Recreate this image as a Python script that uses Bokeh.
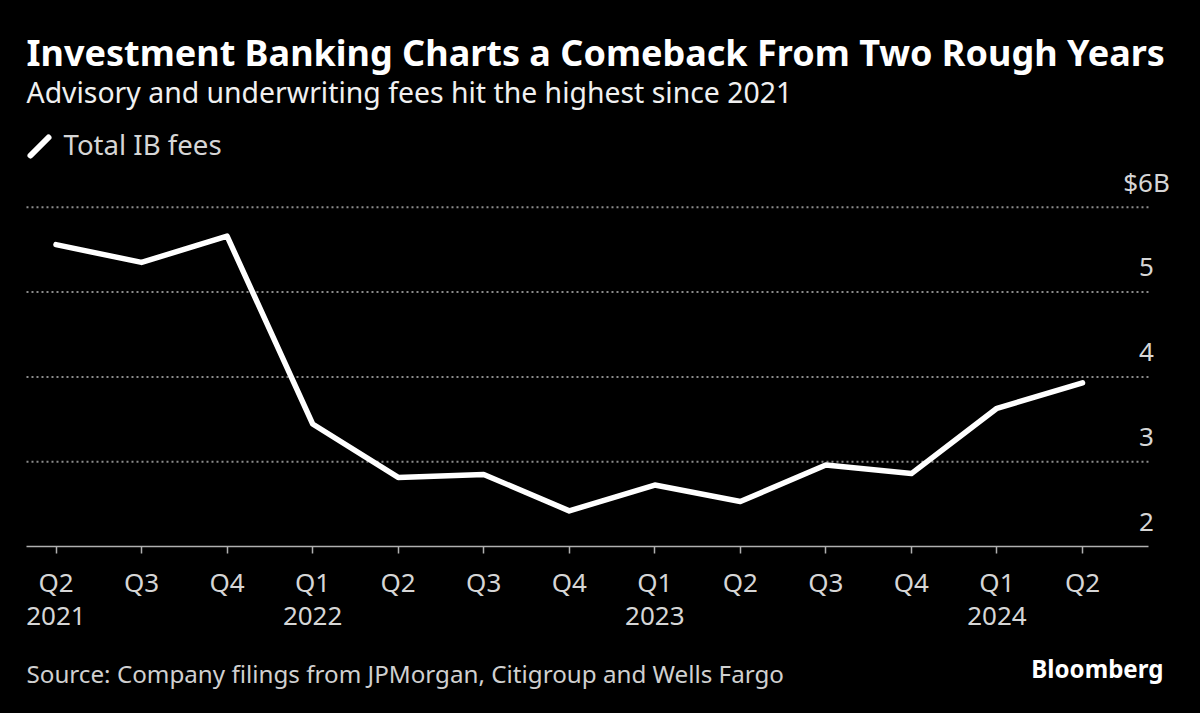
from bokeh.plotting import figure
from bokeh.models import Range1d, FixedTicker, ColumnDataSource
from bokeh.layouts import column
from bokeh.core.properties import value
from bokeh.embed import file_html
from bokeh.resources import INLINE

# ---- data ----
quarters = ["Q2", "Q3", "Q4", "Q1", "Q2", "Q3", "Q4", "Q1", "Q2", "Q3", "Q4", "Q1", "Q2"]
years = ["2021", "", "", "2022", "", "", "", "2023", "", "", "", "2024", ""]
fees = [5.56, 5.35, 5.66, 3.445, 2.815, 2.85, 2.42, 2.725, 2.53, 2.96, 2.86, 3.63, 3.93]
y_ticks = [2, 3, 4, 5, 6]
y_tick_labels = ["2", "3", "4", "5", "$6B"]
grid_ticks = [3, 4, 5, 6]

title_text = "Investment Banking Charts a Comeback From Two Rough Years"
subtitle_text = "Advisory and underwriting fees hit the highest since 2021"
legend_text = "Total IB fees"
source_text = "Source: Company filings from JPMorgan, Citigroup and Wells Fargo"
brand_text = "Bloomberg"

FONT = "Noto Sans"
BG = "black"
W = 1200
HEAD_H, MAIN_H, FOOT_H = 165, 475, 73


def blank(height):
    f = figure(width=W, height=height, output_backend="svg", toolbar_location=None,
               x_range=Range1d(0, W), y_range=Range1d(height, 0),
               x_axis_location=None, y_axis_location=None,
               min_border_left=0, min_border_right=0, min_border_top=0, min_border_bottom=0,
               background_fill_color=BG, border_fill_color=BG, outline_line_color=None)
    f.xgrid.visible = False
    f.ygrid.visible = False
    return f


def txt(f, x, y, text, size, color, bold=False, align="left"):
    f.text(x=[x], y=[y], text=[text], text_font=value(FONT), text_font_size=value(f"{size}px"),
           text_color=color, text_font_style="bold" if bold else "normal",
           text_baseline="alphabetic", text_align=align)


# ---- header ----
head = blank(HEAD_H)
txt(head, 26, 52.2, title_text, 36, "white", bold=True)
txt(head, 26, 91.1, subtitle_text, 28.4, "#f0f0f0")
head.line(x=[30, 48], y=[155, 137], line_color="white", line_width=6, line_cap="round")
txt(head, 63, 143.7, legend_text, 27.6, "#d6d6d6")

# ---- main chart ----
idx = list(range(len(fees)))
px_per_unit = 84.8          # pixels per $1B
px_per_q = 85.54            # pixels per quarter
frame_h = MAIN_H - 94
y_end = 2 + frame_h / px_per_unit
x_start = -55.5 / px_per_q
x_end = 12 + (W - 1082) / px_per_q
plot_lo, plot_hi = -0.345, 12.772   # extent of axis line and grid lines

p = figure(width=W, height=MAIN_H, output_backend="svg", toolbar_location=None,
           x_range=Range1d(x_start, x_end), y_range=Range1d(2, y_end),
           min_border_left=0, min_border_right=0, min_border_top=0, min_border_bottom=94,
           y_axis_location=None, background_fill_color=BG, border_fill_color=BG,
           outline_line_color=None)
p.xgrid.visible = False
p.ygrid.visible = False

# dotted horizontal grid lines at the value ticks
n = len(grid_ticks)
p.segment(x0=[plot_lo] * n, x1=[plot_hi] * n, y0=grid_ticks, y1=grid_ticks,
          line_color="#8c8c8c", line_dash="2 3", line_width=2)

ax = p.xaxis[0]
ax.bounds = (plot_lo, plot_hi)
ax.ticker = FixedTicker(ticks=idx)
ax.major_label_overrides = {i: (q + "\n" + y if y else q) for i, (q, y) in enumerate(zip(quarters, years))}
ax.axis_line_color = "#b0b0b0"
ax.axis_line_width = 1.5
ax.major_tick_line_color = "#b0b0b0"
ax.major_tick_line_width = 1.5
ax.major_tick_in = 0
ax.major_tick_out = 7
ax.minor_tick_line_color = None
ax.major_label_text_color = "#d6d6d6"
ax.major_label_text_font = FONT
ax.major_label_text_font_size = "26px"
ax.major_label_text_line_height = 0.92
ax.major_label_standoff = 10

# value labels on the right, a little above their grid lines
p.text(x=[plot_hi] * len(y_ticks), y=y_ticks, text=y_tick_labels, x_offset=-2, y_offset=-25,
       text_font=value(FONT), text_font_size=value("26px"), text_color="#d6d6d6",
       text_align="center", text_baseline="middle")

src = ColumnDataSource(dict(x=idx, y=fees))
p.line("x", "y", source=src, line_color="white", line_width=5.5, line_join="round", line_cap="round")

# ---- footer ----
foot = blank(FOOT_H)
txt(foot, 26, 33.4, source_text, 24.2, "#d0d0d0")
txt(foot, 1163, 27.8, brand_text, 24.1, "white", bold=True, align="right")

layout = column(head, p, foot, spacing=0)
html = file_html(layout, INLINE)
html = html.replace("<head>", "<head><style>html,body{background:#000;margin:0;}</style>", 1)
open("out.html", "w").write(html)
